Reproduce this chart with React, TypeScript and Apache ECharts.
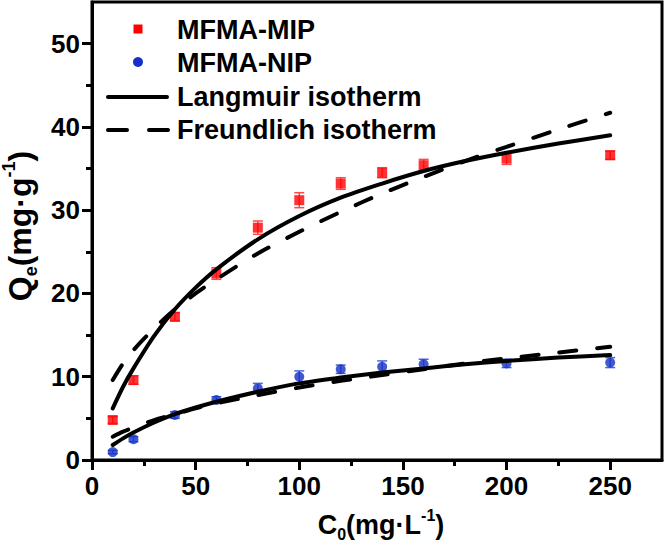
import React, { useEffect, useRef } from 'react';
import * as echarts from 'echarts';

// ---- data ----
const concentrations = [10, 20, 40, 60, 80, 100, 120, 140, 160, 200, 250];
const mipQe = [4.8, 9.6, 17.2, 22.4, 27.9, 31.2, 33.2, 34.5, 35.4, 36.2, 36.6];
const mipErr = [0.4, 0.5, 0.5, 0.7, 0.8, 0.9, 0.7, 0.6, 0.7, 0.7, 0.5];
const nipQe = [0.95, 2.5, 5.4, 7.2, 8.6, 10.0, 10.9, 11.2, 11.5, 11.6, 11.7];
const nipErr = [0.2, 0.3, 0.4, 0.4, 0.6, 0.7, 0.5, 0.7, 0.6, 0.5, 0.6];

const fitC = [10, 15, 20, 30, 40, 50, 60, 80, 100, 120, 140, 160, 180, 200, 225, 250];
const mipLangmuir = [6.2, 8.8, 11.0, 14.9, 18.1, 20.7, 22.9, 26.5, 29.3, 31.5, 33.2, 34.7, 35.9, 36.9, 38.0, 39.0];
const mipFreundlich = [9.6, 11.6, 13.2, 15.8, 18.1, 20.0, 21.7, 24.8, 27.4, 29.8, 32.0, 34.0, 35.9, 37.6, 39.7, 41.7];
const nipLangmuir = [1.8, 2.6, 3.3, 4.5, 5.5, 6.3, 7.0, 8.2, 9.2, 9.9, 10.5, 11.0, 11.5, 11.9, 12.3, 12.6];
const nipFreundlich = [2.8, 3.4, 3.9, 4.8, 5.5, 6.2, 6.8, 7.8, 8.7, 9.5, 10.2, 10.9, 11.6, 12.2, 12.9, 13.6];

const xMajorTicks = [0, 50, 100, 150, 200, 250];
const xMinorTicks = [25, 75, 125, 175, 225];
const yMajorTicks = [0, 10, 20, 30, 40, 50];
const yMinorTicks = [5, 15, 25, 35, 45];

const legendNames = ['MFMA-MIP', 'MFMA-NIP', 'Langmuir isotherm', 'Freundlich isotherm'];

const FONT = '"Liberation Sans", Arial, sans-serif';
const RED = '#ff0000';
const RED_BAR = '#ff4a4a';
const BLUE = '#1430c8';
const BLUE_BAR = '#4a68d8';

function makeRich(main: number, small: number) {
  return {
    b: { fontSize: main, fontWeight: 'bold', fontFamily: FONT, color: '#000', lineHeight: main + 8 },
    sub: { fontSize: small, fontWeight: 'bold', fontFamily: FONT, color: '#000', lineHeight: Math.round(main * 0.46), verticalAlign: 'bottom' },
    sup: { fontSize: small, fontWeight: 'bold', fontFamily: FONT, color: '#000', lineHeight: Math.round(main * 0.77), verticalAlign: 'top' },
  };
}

function errorSeries(vals: number[], errs: number[], color: string) {
  return {
    type: 'custom',
    xAxisIndex: 0,
    yAxisIndex: 0,
    z: 2,
    data: concentrations.map((c, i) => [c, vals[i], errs[i]]),
    renderItem: (_params: any, api: any) => {
      const x = api.value(0);
      const y = api.value(1);
      const e = api.value(2);
      const top = api.coord([x, y + e]);
      const bot = api.coord([x, y - e]);
      const hw = 5;
      const st = { stroke: color, lineWidth: 1.5 };
      return {
        type: 'group',
        children: [
          { type: 'line', shape: { x1: top[0], y1: top[1], x2: bot[0], y2: bot[1] }, style: st },
          { type: 'line', shape: { x1: top[0] - hw, y1: top[1], x2: top[0] + hw, y2: top[1] }, style: st },
          { type: 'line', shape: { x1: bot[0] - hw, y1: bot[1], x2: bot[0] + hw, y2: bot[1] }, style: st },
        ],
      };
    },
  };
}

function fitSeries(name: string, vals: number[], dashed: boolean) {
  return {
    name,
    type: 'line',
    xAxisIndex: 0,
    yAxisIndex: 0,
    z: 4,
    symbol: 'none',
    smooth: 0.3,
    data: fitC.map((c, i) => [c, vals[i]]),
    lineStyle: { color: '#000', width: 4, type: dashed ? [17, 21] : 'solid', cap: 'round' },
  };
}

export default function App() {
  const ref = useRef<HTMLDivElement>(null);
  useEffect(() => {
    document.body.style.margin = '0';
    const chart = echarts.init(ref.current!, null, { renderer: 'svg' });
    const labelStyle = { fontSize: 26, fontWeight: 'bold', fontFamily: FONT, color: '#000' };
    const legendText = { font: `bold 27px ${FONT}`, fill: '#000', verticalAlign: 'middle', align: 'left' };
    const option: any = {
      animation: false,
      backgroundColor: '#fff',
      grid: {
        left: 92, right: 2, top: 2, bottom: 91,
        show: true, borderColor: '#000', borderWidth: 3,
        outerBoundsMode: 'none',
      },
      xAxis: [
        {
          type: 'value', min: 0, max: 275, position: 'bottom',
          axisLine: { show: true, lineStyle: { color: '#000', width: 3 } },
          axisTick: { show: true, inside: false, length: 10, lineStyle: { color: '#000', width: 3 }, customValues: xMajorTicks },
          axisLabel: { ...labelStyle, margin: 13, customValues: xMajorTicks },
          splitLine: { show: false },
          name: '{b|C}{sub|0}{b|(mg·L}{sup|-1}{b|)}',
          nameLocation: 'middle',
          nameGap: 47,
          nameTextStyle: { rich: makeRich(27, 16), padding: [0, 0, 0, 8] },
        },
        {
          type: 'value', min: 0, max: 275, position: 'bottom', offset: 0,
          axisLine: { show: false },
          axisTick: { show: true, inside: false, length: 6, lineStyle: { color: '#000', width: 3 }, customValues: xMinorTicks },
          axisLabel: { show: false },
          splitLine: { show: false },
        },
      ],
      yAxis: [
        {
          type: 'value', min: 0, max: 55, position: 'left',
          axisLine: { show: true, lineStyle: { color: '#000', width: 3 } },
          axisTick: { show: true, inside: false, length: 10, lineStyle: { color: '#000', width: 3 }, customValues: yMajorTicks },
          axisLabel: { ...labelStyle, margin: 12, customValues: yMajorTicks },
          splitLine: { show: false },
          name: '{b|Q}{sub|e}{b|(mg·g}{sup|-1}{b|)}',
          nameLocation: 'middle',
          nameRotate: 90,
          nameGap: 50,
          nameTextStyle: { rich: makeRich(32, 18), padding: [0, 0, 0, 10] },
        },
        {
          type: 'value', min: 0, max: 55, position: 'left', offset: 0,
          axisLine: { show: false },
          axisTick: { show: true, inside: false, length: 6, lineStyle: { color: '#000', width: 3 }, customValues: yMinorTicks },
          axisLabel: { show: false },
          splitLine: { show: false },
        },
      ],
      series: [
        errorSeries(mipQe, mipErr, RED_BAR),
        errorSeries(nipQe, nipErr, BLUE_BAR),
        {
          name: legendNames[0], type: 'scatter', z: 3, symbol: 'rect', symbolSize: 10,
          itemStyle: { color: RED },
          data: concentrations.map((c, i) => [c, mipQe[i]]),
        },
        {
          name: legendNames[1], type: 'scatter', z: 3, symbol: 'circle', symbolSize: 10,
          itemStyle: { color: BLUE },
          data: concentrations.map((c, i) => [c, nipQe[i]]),
        },
        fitSeries(legendNames[2], mipLangmuir, false),
        fitSeries(legendNames[2], nipLangmuir, false),
        fitSeries(legendNames[3], mipFreundlich, true),
        fitSeries(legendNames[3], nipFreundlich, true),
      ],
      graphic: [
        { type: 'rect', shape: { x: 133.5, y: 24.5, width: 9, height: 9 }, style: { fill: RED } },
        { type: 'circle', shape: { cx: 138, cy: 62, r: 5 }, style: { fill: BLUE } },
        { type: 'line', shape: { x1: 108, y1: 97, x2: 167, y2: 97 }, style: { stroke: '#000', lineWidth: 4, lineCap: 'round' } },
        { type: 'line', shape: { x1: 108, y1: 130, x2: 168, y2: 130 }, style: { stroke: '#000', lineWidth: 4, lineCap: 'round', lineDash: [19, 22] } },
        { type: 'text', style: { ...legendText, text: legendNames[0], x: 177, y: 30 } },
        { type: 'text', style: { ...legendText, text: legendNames[1], x: 177, y: 63 } },
        { type: 'text', style: { ...legendText, text: legendNames[2], x: 177, y: 97 } },
        { type: 'text', style: { ...legendText, text: legendNames[3], x: 177, y: 130 } },
      ],
    };
    chart.setOption(option);
    return () => chart.dispose();
  }, []);
  return <div ref={ref} style={{ width: 664, height: 551, position: 'absolute', left: 0, top: 0 }} />;
}
